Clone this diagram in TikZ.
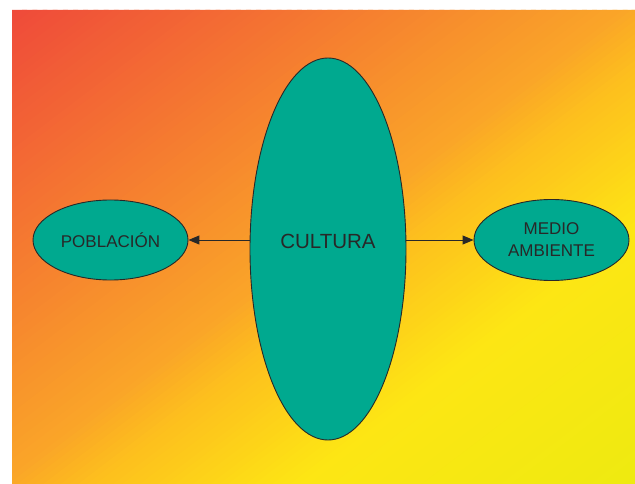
\documentclass[tikz,border=0pt]{standalone}
\usepackage{fontspec}
\setmainfont{Liberation Sans}
\usetikzlibrary{arrows.meta,shapes.geometric}
% backdrop ramp stops, red in the upper left to yellow in the lower right
\definecolor{gA}{RGB}{239,74,58}
\definecolor{gB}{RGB}{250,165,40}
\definecolor{gC}{RGB}{253,190,30}
\definecolor{gD}{RGB}{253,230,20}
\definecolor{gE}{RGB}{238,234,16}
\definecolor{blobfill}{RGB}{0,169,143}
\definecolor{ink}{RGB}{40,40,40}
\tikzset{
  blob/.style={ellipse, draw=ink, line width=0.9pt, fill=blobfill, text=ink,
    inner sep=0pt, align=center},
  link/.style={draw=ink, line width=1pt, -{Triangle[length=11pt,width=9pt]}},
}
\begin{document}
\begin{tikzpicture}[x=1pt,y=-1pt]
  \useasboundingbox (0,0) rectangle (635,484);

  % diagonal backdrop painted as thin bands in unit coordinates
  \begin{scope}[shift={(12,10)}, x={(623pt,0pt)}, y={(0pt,-474pt)}]
    \clip (0,0) rectangle (1,1);
    \foreach \ta/\tb/\ca/\cb/\n in {0/0.49/gA/gB/60, 0.49/0.56/gB/gC/10,
                                     0.56/0.73/gC/gD/24, 0.73/1/gD/gE/30} {
      \foreach \j in {1,...,\n} {
        \pgfmathsetmacro{\pa}{\ta+(\tb-\ta)*(\j-1)/\n}
        \pgfmathsetmacro{\pb}{\ta+(\tb-\ta)*\j/\n+0.004}
        \pgfmathsetmacro{\mix}{100*(\j-0.5)/\n}
        \fill[\cb!\mix!\ca] (2*\pa,0) -- (2*\pb,0) -- (0,2*\pb) -- (0,2*\pa) -- cycle;
      }
    }
  \end{scope}

  \node[blob, minimum width=156pt, minimum height=382pt] (cultura) at (328,249) {};
  \node[text=ink, font=\fontsize{20.5}{24}\selectfont] (culturatext) at (328,241) {CULTURA};
  \node[blob, minimum width=155pt, minimum height=80pt,
        font=\fontsize{17}{20}\selectfont] (poblacion) at (110.5,240) {POBLACIÓN};
  \node[blob, minimum width=155pt, minimum height=81pt,
        font=\fontsize{17}{22}\selectfont] (medio) at (551.5,240) {MEDIO\\AMBIENTE};

  \draw[link] (cultura.west |- 0,240) -- (poblacion.east);
  \draw[link] (cultura.east |- 0,240) -- (medio.west);
\end{tikzpicture}
\end{document}
